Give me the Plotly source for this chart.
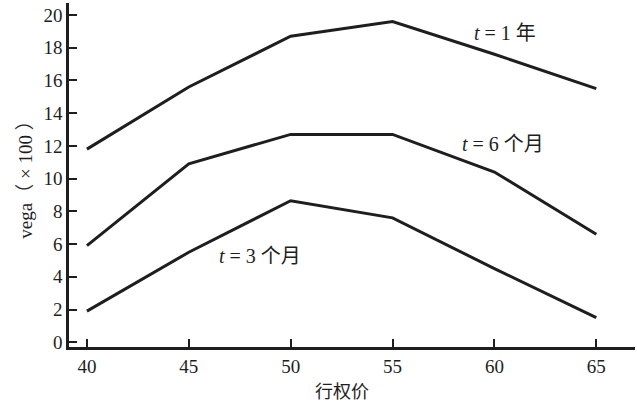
import plotly.graph_objects as go

# strike prices and vega (x100) for three maturities
strikes = [40, 45, 50, 55, 60, 65]
vega_1y = [11.8, 15.6, 18.7, 19.6, 17.6, 15.5]
vega_6m = [5.9, 10.9, 12.7, 12.7, 10.4, 6.6]
vega_3m = [1.9, 5.5, 8.65, 7.6, 4.5, 1.5]

labels = ["<i>t</i> = 1 年", "<i>t</i> = 6 个月", "<i>t</i> = 3 个月"]
label_x = [60.5, 60.4, 48.5]
label_y = [18.9, 12.1, 5.3]

font_family = "Liberation Serif, Noto Sans CJK SC, serif"
ink = "#1e1e1e"

fig = go.Figure()
for vals in [vega_1y, vega_6m, vega_3m]:
    fig.add_trace(go.Scatter(x=strikes, y=vals, mode="lines",
                             line=dict(color=ink, width=3), showlegend=False))

for txt, xx, yy in zip(labels, label_x, label_y):
    fig.add_annotation(x=xx, y=yy, text=txt, showarrow=False,
                       font=dict(size=20, color=ink, family=font_family))

# x-axis title sits a bit left of centre in the original
fig.add_annotation(x=0.482, y=-0.13, xref="paper", yref="paper", text="行权价",
                   xanchor="center", yanchor="middle", showarrow=False,
                   font=dict(size=18, color=ink, family=font_family))

fig.update_layout(
    width=637, height=404,
    margin=dict(l=69, r=2, t=3, b=57),
    paper_bgcolor="white", plot_bgcolor="white",
    font=dict(family=font_family, size=19, color=ink),
)
fig.update_xaxes(
    range=[39.12, 66.9], tickvals=strikes, ticks="inside", ticklen=8,
    tickwidth=2, tickcolor=ink, showline=True, linewidth=2.5, linecolor=ink,
    showgrid=False, zeroline=False, tickfont=dict(size=19),
)
fig.update_yaxes(
    range=[-0.29, 20.73], tickvals=list(range(0, 21, 2)), ticks="inside",
    ticklen=8, tickwidth=2, tickcolor=ink, showline=True, linewidth=2.5,
    linecolor=ink, showgrid=False, zeroline=False, tickfont=dict(size=19),
    title=dict(text="vega（ × 100 ）", standoff=6, font=dict(size=19)),
)

fig.write_html("out.html", config={"displayModeBar": False},
               post_script="document.body.style.margin='0';")
